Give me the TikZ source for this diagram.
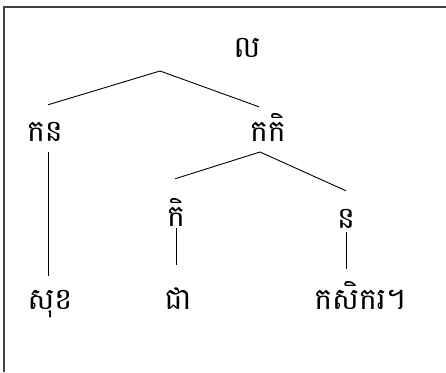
\documentclass[tikz,border=0pt]{standalone}
\usepackage{fontspec}
\newfontfamily\khmerfont[Script=Khmer]{Battambang}
\usetikzlibrary{positioning}
\tikzstyle{tag} = [font=\khmerfont\fontsize{30}{36}\selectfont, inner sep=0pt,
    text height=15pt, text depth=0pt, anchor=base]
\tikzstyle{edge} = [line width=0.9pt]
\tikzstyle{frame} = [line width=2pt, black!75]

\begin{document}
\begin{tikzpicture}[x=1pt, y=-1pt]
    \useasboundingbox (0,0) rectangle (446,372);
    \draw [frame] (4,372) -- (4,7) -- (446,7);
    % Place nodes
    \node [tag] (lo) at (247,57) {ល};
    \node [tag] (kan) at (45,141) {កន};
    \node [tag] (kaki) at (268,141) {កកិ};
    \node [tag] (ki) at (176,226) {កិ};
    \node [tag] (no) at (346,228) {ន};
    \node [tag] (sok) at (50,309) {សុខ};
    \node [tag] (chea) at (178,309) {ជា};
    \node [tag] (kasekor) at (360,309) {កសិករ។};
    \coordinate (loapex) at (160,71);
    \coordinate (kakiapex) at (260,152);
    % Draw edges
    \draw [edge] (loapex) -- ([xshift=3pt,yshift=21pt]kan.north);
    \draw [edge] (loapex) -- ([xshift=-9pt,yshift=19pt]kaki.north);
    \draw [edge] (kakiapex) -- ([xshift=-1pt,yshift=32pt]ki.north);
    \draw [edge] (kakiapex) -- ([yshift=22pt]no.north);
    \draw [edge] ([xshift=3pt,yshift=-11pt]kan.south) -- ([xshift=-2pt,yshift=18pt]sok.north);
    \draw [edge] ([yshift=-2pt]ki.south) -- ([xshift=-2pt,yshift=29pt]chea.north);
    \draw [edge] ([yshift=-4pt]no.south) -- ([xshift=-14pt,yshift=25pt]kasekor.north);
\end{tikzpicture}
\end{document}
